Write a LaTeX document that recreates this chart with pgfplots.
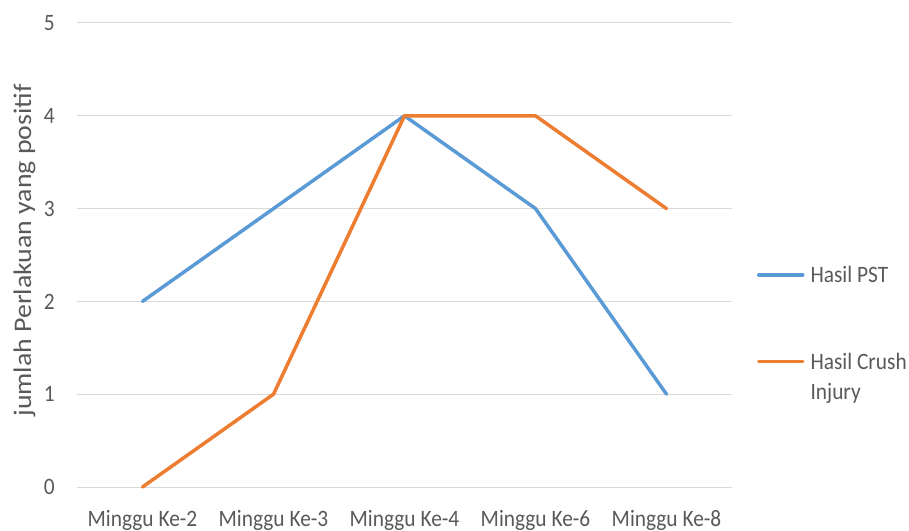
\documentclass[border=0pt]{standalone}
\usepackage{fontspec}
\setmainfont{Carlito}
\newfontfamily\tickfont{Carlito}[FakeStretch=0.91]
\newfontfamily\labelfont{Carlito}[FakeStretch=1.1]
\usepackage{pgfplots}
\pgfplotsset{compat=1.18}
\definecolor{pstblue}{HTML}{5B9BD5}
\definecolor{crushorange}{HTML}{ED7D31}
\definecolor{gridgray}{HTML}{D9D9D9}
\definecolor{textgray}{HTML}{595959}
\begin{document}
\begin{tikzpicture}
\useasboundingbox (0,0) rectangle (909bp,531bp);
\begin{axis}[
  at={(77bp,44bp)}, anchor=south west,
  scale only axis, width=655bp, height=464bp,
  xmin=-0.5, xmax=4.5, ymin=0, ymax=5,
  clip=false,
  xtick={0,1,2,3,4},
  xticklabels={Minggu Ke-2,Minggu Ke-3,Minggu Ke-4,Minggu Ke-6,Minggu Ke-8},
  ytick={0,1,2,3,4,5},
  ymajorgrids,
  grid style={gridgray, line width=1bp},
  axis line style={draw=none},
  major tick length=0pt,
  tick label style={font=\tickfont\fontsize{23.5bp}{27bp}\selectfont, text=textgray, inner sep=0pt},
  /pgf/number format/assume math mode=true,
  yticklabel style={anchor=east, xshift=-22bp},
  xticklabel style={anchor=north, yshift=-23bp},
  ylabel={jumlah Perlakuan yang positif},
  ylabel style={at={(axis description cs:-0.0702,0.51)}, anchor=base, font=\labelfont\fontsize{25.3bp}{30bp}\selectfont, text=textgray, inner sep=0pt},
  legend style={at={(axis description cs:1.0382,0.475)}, anchor=north west, draw=none, fill=none, inner sep=0pt, outer sep=0pt, row sep=64bp, column sep=6bp, font=\tickfont\fontsize{23.5bp}{30bp}\selectfont, text=textgray, nodes={inner sep=0pt, outer sep=0pt}, cells={anchor=base west, inner sep=0pt}},
  legend image code/.code={\draw[#1] (2bp,8bp) -- (46bp,8bp);},
]
\addplot[pstblue, line width=3.5bp, line join=round, line cap=round] coordinates {(0,2) (1,3) (2,4) (3,3) (4,1)};
\addlegendentry{Hasil PST}
\addplot[crushorange, line width=3.5bp, line join=round, line cap=round] coordinates {(0,0) (1,1) (2,4) (3,4) (4,3)};
\addlegendentry{\begin{tabular}[t]{@{}l@{}}Hasil Crush\\Injury\end{tabular}}
\end{axis}
\end{tikzpicture}
\end{document}
